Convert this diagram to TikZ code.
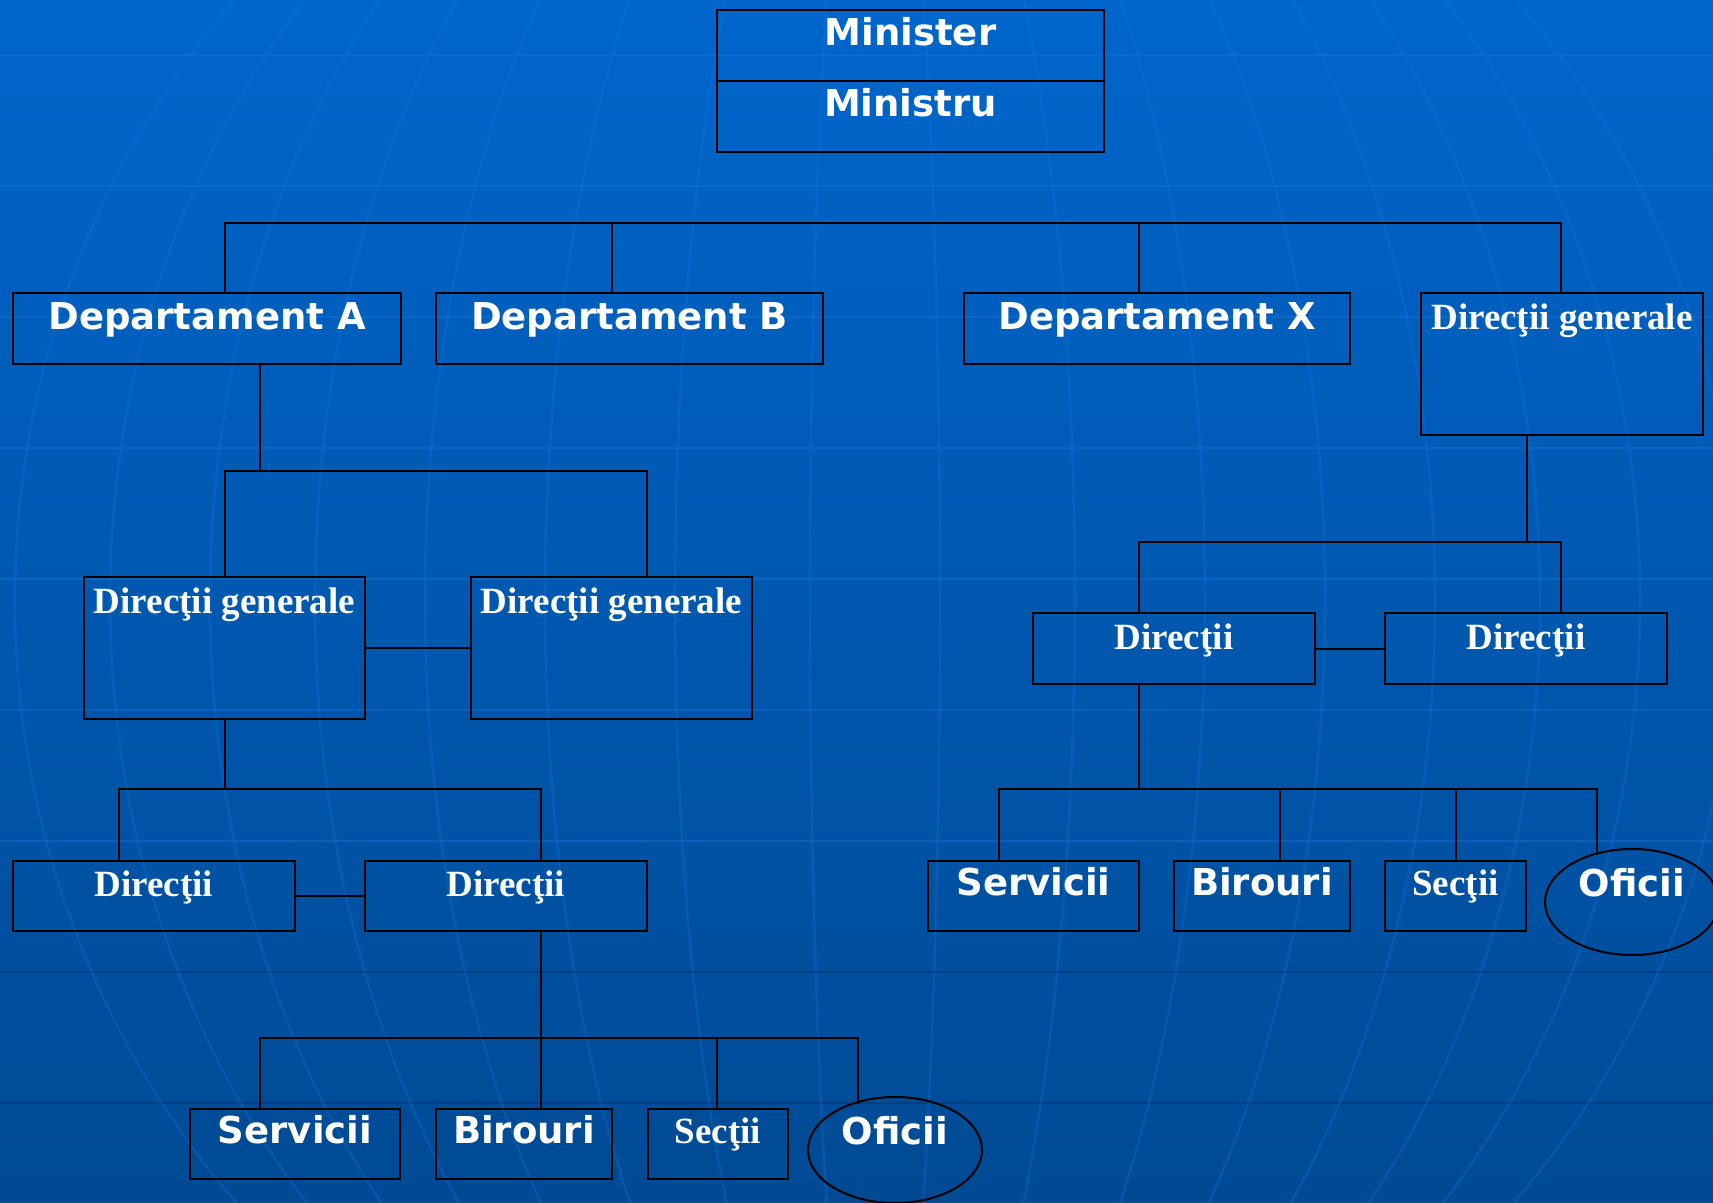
\documentclass[tikz,border=0pt]{standalone}
\usepackage{fontspec}
\setmainfont{Liberation Serif}
\setsansfont{DejaVu Sans}
\usetikzlibrary{shapes.geometric}
\definecolor{bgtop}{HTML}{0066CC}
\definecolor{bgbot}{HTML}{004A94}
\definecolor{gridl}{HTML}{1A78E6}
\definecolor{gridd}{HTML}{003A78}
\begin{document}
\begin{tikzpicture}[x=1pt,y=-1pt,
  box/.style={draw=black, line width=2pt, inner sep=0pt, outer sep=0pt, anchor=north west, text=white},
  sanst/.style={font=\fontsize{37}{40}\selectfont\sffamily\bfseries},
  sert/.style={font=\fontsize{37}{40}\selectfont\rmfamily\bfseries},
  oval/.style={ellipse, draw=black, line width=2pt, inner sep=0pt, outer sep=0pt, minimum width=174pt, minimum height=106pt, text=white, text height=8pt, text depth=20pt, font=\fontsize{37}{40}\selectfont\sffamily\bfseries},
  conn/.style={draw=black, line width=2pt},
  glight/.style={draw=gridl, line width=2.5pt, opacity=0.35},
  gmer/.style={draw=gridl, line width=2.5pt, opacity=0.25},
  gdark/.style={draw=gridd, line width=2.5pt, opacity=0.7}]
\useasboundingbox (0,0) rectangle (1713,1202);
\clip (0,0) rectangle (1713,1202);
% background
\shade[top color=bgtop, bottom color=bgbot] (0,0) rectangle (1713,1202);
\foreach \yy in {55,186,317,448,579,710,841} {\draw[glight] (0,\yy) -- (1713,\yy);}
\foreach \yy in {972,1103} {\draw[gdark] (0,\yy) -- (1713,\yy);}
\foreach \rr in {65,200,330,450,560,665,765,860} {\draw[gmer] (875,600) ellipse [x radius=\rr, y radius=900];}

% boxes
\node[box, sanst, minimum width=387pt, text height=35pt, text depth=36pt] (min1) at (717,10) {Minister};
\node[box, sanst, minimum width=387pt, text height=35pt, text depth=36pt] (min2) at (717,81) {Ministru};
\node[box, sanst, minimum width=388pt, text height=36pt, text depth=35pt] (depA) at (13,293) {Departament A};
\node[box, sanst, minimum width=387pt, text height=36pt, text depth=35pt] (depB) at (436,293) {Departament B};
\node[box, sanst, minimum width=386pt, text height=36pt, text depth=35pt] (depX) at (964,293) {Departament X};
\node[box, sert, minimum width=282pt, text height=36pt, text depth=106pt] (dgR) at (1421,293) {Direcţii generale};
\node[box, sert, minimum width=281pt, text height=36pt, text depth=106pt] (dgL) at (84,577) {Direcţii generale};
\node[box, sert, minimum width=281pt, text height=36pt, text depth=106pt] (dgM) at (471,577) {Direcţii generale};
\node[box, sert, minimum width=282pt, text height=35pt, text depth=35pt] (dirL1) at (13,861) {Direcţii};
\node[box, sert, minimum width=282pt, text height=35pt, text depth=35pt] (dirL2) at (365,861) {Direcţii};
\node[box, sert, minimum width=282pt, text height=36pt, text depth=35pt] (dirR1) at (1033,613) {Direcţii};
\node[box, sert, minimum width=282pt, text height=36pt, text depth=35pt] (dirR2) at (1385,613) {Direcţii};
\node[box, sanst, minimum width=210pt, text height=34pt, text depth=36pt] (servL) at (190,1109) {Servicii};
\node[box, sanst, minimum width=176pt, text height=34pt, text depth=36pt] (birL) at (436,1109) {Birouri};
\node[box, sert, minimum width=140pt, text height=34pt, text depth=36pt] (secL) at (648,1109) {Secţii};
\node[oval] (ofL) at (895,1150) {Oficii};
\node[box, sanst, minimum width=211pt, text height=34pt, text depth=36pt] (servR) at (928,861) {Servicii};
\node[box, sanst, minimum width=176pt, text height=34pt, text depth=36pt] (birR) at (1174,861) {Birouri};
\node[box, sert, minimum width=141pt, text height=34pt, text depth=36pt] (secR) at (1385,861) {Secţii};
\node[oval] (ofR) at (1632,902) {Oficii};

% connectors: top level
\draw[conn] (225,0 |- depA.north) -- (225,223) -- (1561,223) -- (1561,0 |- dgR.north);
\draw[conn] (612,223) -- (612,0 |- depB.north);
\draw[conn] (1139,223) -- (1139,0 |- depX.north);
% Departament A branch
\draw[conn] (260,0 |- depA.south) -- (260,471);
\draw[conn] (225,0 |- dgL.north) -- (225,471) -- (647,471) -- (647,0 |- dgM.north);
\draw[conn] (dgL.east) -- (dgM.west);
\draw[conn] (225,0 |- dgL.south) -- (225,789);
\draw[conn] (119,0 |- dirL1.north) -- (119,789) -- (541,789) -- (541,0 |- dirL2.north);
\draw[conn] (dirL1.east) -- (dirL2.west);
\draw[conn] (541,0 |- dirL2.south) -- (541,0 |- birL.north);
\draw[conn] (260,0 |- servL.north) -- (260,1038) -- (858,1038) -- (858,1104);
\draw[conn] (717,1038) -- (717,0 |- secL.north);
% right branch
\draw[conn] (1527,0 |- dgR.south) -- (1527,542);
\draw[conn] (1139,0 |- dirR1.north) -- (1139,542) -- (1561,542) -- (1561,0 |- dirR2.north);
\draw[conn] (dirR1.east) -- (dirR2.west);
\draw[conn] (1139,0 |- dirR1.south) -- (1139,789);
\draw[conn] (999,0 |- servR.north) -- (999,789) -- (1597,789) -- (1597,855);
\draw[conn] (1280,789) -- (1280,0 |- birR.north);
\draw[conn] (1456,789) -- (1456,0 |- secR.north);
\end{tikzpicture}
\end{document}
